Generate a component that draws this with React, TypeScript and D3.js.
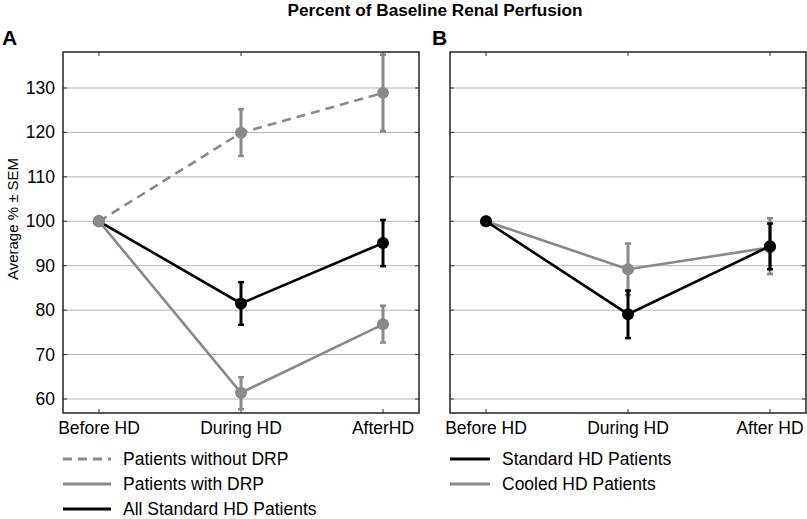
import React, { useEffect, useRef } from 'react';
import * as d3 from 'd3';

const phasesA = ['Before HD', 'During HD', 'AfterHD'];
const phasesB = ['Before HD', 'During HD', 'After HD'];
const yTicks = [60, 70, 80, 90, 100, 110, 120, 130];

// panel A
const withoutDrp = [100, 119.9, 128.9];
const withoutDrpLo = [100, 114.7, 120.3];
const withoutDrpHi = [100, 125.2, 137.5];
const withDrp = [100, 61.4, 76.8];
const withDrpLo = [100, 57.7, 72.7];
const withDrpHi = [100, 64.9, 81.0];
const allStandard = [100, 81.5, 95.1];
const allStandardLo = [100, 76.7, 89.9];
const allStandardHi = [100, 86.3, 100.3];

// panel B
const cooled = [100, 89.2, 94.1];
const cooledLo = [100, 83.4, 88.1];
const cooledHi = [100, 95.0, 100.7];
const standard = [100, 79.1, 94.4];
const standardLo = [100, 73.7, 89.2];
const standardHi = [100, 84.4, 99.5];

const GREY = '#898989';
const FONT = 'Liberation Sans, Arial, sans-serif';
const FS = 17.5;

type Serie = { v: number[]; lo: number[]; hi: number[]; color: string; dash: string | null; name: string };

export default function App() {
  const ref = useRef<SVGSVGElement>(null);

  useEffect(() => {
    const svg = d3.select(ref.current);
    svg.selectAll('*').remove();

    const top = 52;
    const bottom = 413;
    const y = d3.scaleLinear().domain([56.85, 138.1]).range([bottom, top]);

    svg.append('text')
      .attr('x', 435).attr('y', 16)
      .attr('text-anchor', 'middle')
      .attr('font-family', FONT).attr('font-weight', 700).attr('font-size', 17.2)
      .text('Percent of Baseline Renal Perfusion');

    svg.append('text')
      .attr('x', 12.5).attr('y', 219)
      .attr('transform', 'rotate(-90,12.5,219)')
      .attr('text-anchor', 'middle').attr('dominant-baseline', 'central')
      .attr('font-family', FONT).attr('font-size', 15)
      .text('Average % ± SEM');

    const panel = (left: number, right: number, letter: string, phases: string[], showY: boolean,
      series: Serie[], legend: Serie[], legendX: number, legendLen: number) => {
      const x = d3.scalePoint<string>().domain(phases).range([left, right]).padding(0.2535);
      const g = svg.append('g');

      g.append('text')
        .attr('x', left - (showY ? 61 : 18)).attr('y', 45)
        .attr('font-family', FONT).attr('font-weight', 700).attr('font-size', 21)
        .text(letter);

      // grid
      g.selectAll('.grid').data(yTicks).enter().append('line')
        .attr('x1', left).attr('x2', right)
        .attr('y1', (d) => y(d)).attr('y2', (d) => y(d))
        .attr('stroke', '#b4b4b4').attr('stroke-width', 1);

      // ticks inside the frame
      const tk = 4;
      yTicks.forEach((t) => {
        g.append('line').attr('x1', left).attr('x2', left + tk).attr('y1', y(t)).attr('y2', y(t)).attr('stroke', '#333');
        g.append('line').attr('x1', right - tk).attr('x2', right).attr('y1', y(t)).attr('y2', y(t)).attr('stroke', '#333');
      });
      phases.forEach((p) => {
        g.append('line').attr('x1', x(p)!).attr('x2', x(p)!).attr('y1', top).attr('y2', top + tk).attr('stroke', '#333');
        g.append('line').attr('x1', x(p)!).attr('x2', x(p)!).attr('y1', bottom).attr('y2', bottom - tk).attr('stroke', '#333');
      });

      if (showY) {
        g.selectAll('.yl').data(yTicks).enter().append('text')
          .attr('x', left - 8).attr('y', (d) => y(d))
          .attr('text-anchor', 'end').attr('dominant-baseline', 'central')
          .attr('font-family', FONT).attr('font-size', FS)
          .text((d) => d);
      }

      g.selectAll('.xl').data(phases).enter().append('text')
        .attr('x', (d) => x(d)!).attr('y', 434)
        .attr('text-anchor', 'middle')
        .attr('font-family', FONT).attr('font-size', FS)
        .text((d) => d);

      const line = d3.line<number>().x((_, i) => x(phases[i])!).y((d) => y(d));

      series.forEach((s) => {
        g.append('path')
          .attr('d', line(s.v))
          .attr('fill', 'none')
          .attr('stroke', s.color).attr('stroke-width', 2.6)
          .attr('stroke-dasharray', s.dash);
        s.v.forEach((v, i) => {
          const cx = x(phases[i])!;
          if (s.hi[i] !== s.lo[i]) {
            g.append('line').attr('x1', cx).attr('x2', cx).attr('y1', y(s.lo[i])).attr('y2', y(s.hi[i]))
              .attr('stroke', s.color).attr('stroke-width', 3);
            [s.lo[i], s.hi[i]].forEach((e) => {
              g.append('line').attr('x1', cx - 3).attr('x2', cx + 3).attr('y1', y(e)).attr('y2', y(e))
                .attr('stroke', s.color).attr('stroke-width', 2.5);
            });
          }
          g.append('circle').attr('cx', cx).attr('cy', y(v)).attr('r', 6).attr('fill', s.color);
        });
      });

      // frame
      g.append('rect')
        .attr('x', left).attr('y', top).attr('width', right - left).attr('height', bottom - top)
        .attr('fill', 'none').attr('stroke', '#222').attr('stroke-width', 1.5);

      // legend
      legend.forEach((s, i) => {
        const ly = 459 + i * 25;
        g.append('line')
          .attr('x1', left).attr('x2', left + legendLen).attr('y1', ly).attr('y2', ly)
          .attr('stroke', s.color).attr('stroke-width', 2.8)
          .attr('stroke-dasharray', s.dash);
        g.append('text')
          .attr('x', legendX).attr('y', ly).attr('dominant-baseline', 'central')
          .attr('font-family', FONT).attr('font-size', FS)
          .text(s.name);
      });
    };

    const sWithout: Serie = { v: withoutDrp, lo: withoutDrpLo, hi: withoutDrpHi, color: GREY, dash: '9,6', name: 'Patients without DRP' };
    const sWith: Serie = { v: withDrp, lo: withDrpLo, hi: withDrpHi, color: GREY, dash: null, name: 'Patients with DRP' };
    const sAll: Serie = { v: allStandard, lo: allStandardLo, hi: allStandardHi, color: '#000', dash: null, name: 'All Standard HD Patients' };
    panel(63, 419, 'A', phasesA, true, [sAll, sWith, sWithout], [sWithout, sWith, sAll], 123, 48);

    const sCooled: Serie = { v: cooled, lo: cooledLo, hi: cooledHi, color: GREY, dash: null, name: 'Cooled HD Patients' };
    const sStd: Serie = { v: standard, lo: standardLo, hi: standardHi, color: '#000', dash: null, name: 'Standard HD Patients' };
    panel(450, 806, 'B', phasesB, false, [sCooled, sStd], [sStd, sCooled], 502, 40);
  }, []);

  return (
    <svg ref={ref} width={807} height={519} style={{ position: 'absolute', left: 0, top: 0, background: '#fff' }} />
  );
}
